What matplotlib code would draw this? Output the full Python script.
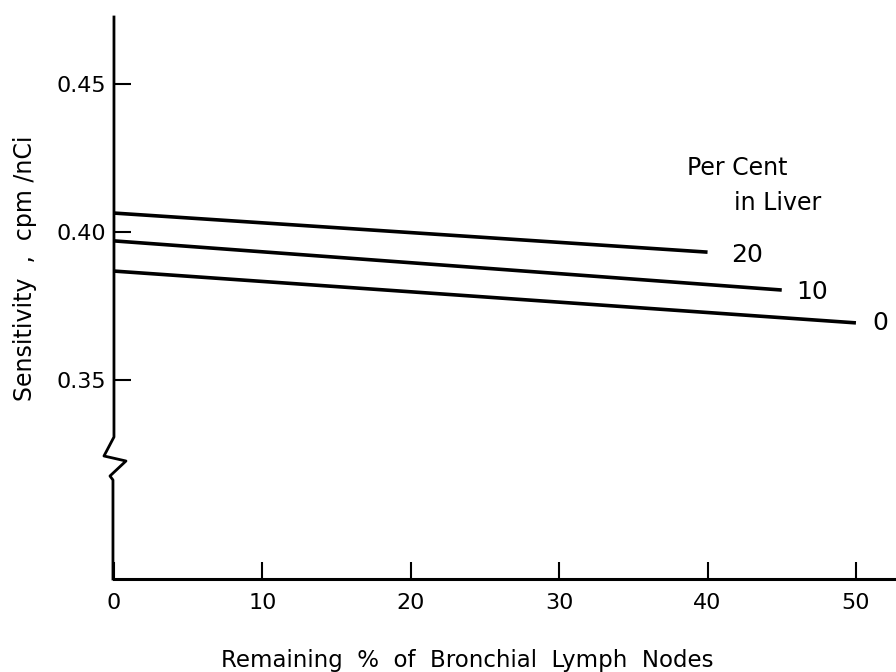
import matplotlib.pyplot as plt
import matplotlib as mpl

mpl.rcParams.update({
    'font.family': 'DejaVu Sans',
    'font.size': 16,
})

# Per cent in liver for each curve, and the two ends of each straight line
liver_pct = ['20', '10', '0']
x_start = [0, 0, 0]
x_end = [40, 45, 50]
y_start = [0.4064, 0.3970, 0.3868]
y_end = [0.3932, 0.3804, 0.3693]

# where the curve labels sit (data coords)
lab_x = [41.6, 46.0, 51.1]
lab_y = [0.3922, 0.3797, 0.3693]

x_ticks = [0, 10, 20, 30, 40, 50]
y_ticks = [0.35, 0.40, 0.45]

fig = plt.figure(figsize=(8.96, 6.72), dpi=100)
ax = fig.add_axes([0.1272, 0.1384, 0.8728, 0.8363])

for xs, xe, ys, ye in zip(x_start, x_end, y_start, y_end):
    ax.plot([xs, xe], [ys, ye], color='black', lw=2.6, solid_capstyle='butt')

for t, x, y in zip(liver_pct, lab_x, lab_y):
    ax.text(x, y, t, ha='left', va='center', fontsize=18)

ax.text(42.0, 0.4216, 'Per Cent', ha='center', va='center', fontsize=17)
ax.text(44.7, 0.4098, 'in Liver', ha='center', va='center', fontsize=17)

ax.set_xlim(0, 52.7)
ax.set_ylim(0.28277, 0.47264)

ax.set_xticks(x_ticks)
ax.set_xticklabels([str(v) for v in x_ticks])
ax.set_yticks(y_ticks)
ax.set_yticklabels(['%.2f' % v for v in y_ticks])
ax.tick_params(axis='both', direction='in', length=12, width=1.5, labelsize=16)
ax.tick_params(axis='x', pad=10)
ax.tick_params(axis='y', pad=6)

for s in ['top', 'right', 'left']:
    ax.spines[s].set_visible(False)
ax.spines['bottom'].set_linewidth(2.2)

# y axis drawn by hand with the break zigzag (axes fraction, offsets in pixels)
tr = ax.transAxes
px = 1.0 / 782.0   # one pixel in axes-x fraction
py = 1.0 / 562.0   # one pixel in axes-y fraction
brk_x = [0, 0, -10 * px, 12 * px, -4 * px, -1 * px, -1 * px]
brk_y = [1.0, (579 - 437) * py, (579 - 456) * py, (579 - 461) * py,
         (579 - 476) * py, (579 - 480) * py, 0.0]
ax.plot(brk_x, brk_y, transform=tr, color='black', lw=2.0, clip_on=False)

fig.text(467 / 896, 1 - 661 / 672, 'Remaining  %  of  Bronchial  Lymph  Nodes',
         ha='center', va='center', fontsize=16.5)
fig.text(25 / 896, 1 - 268 / 672, 'Sensitivity  ,  cpm /nCi',
         ha='center', va='center', rotation=90, fontsize=17)

fig.savefig('out.png', dpi=100)
